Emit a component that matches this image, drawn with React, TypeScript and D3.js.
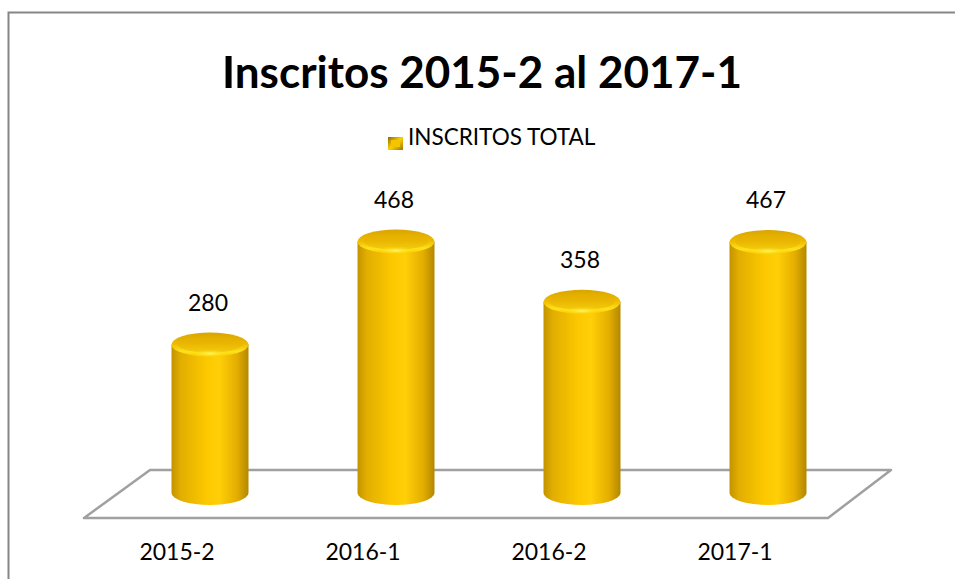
import React from "react";
import * as d3 from "d3";

const categories = ["2015-2", "2016-1", "2016-2", "2017-1"];
const inscritos = [280, 468, 358, 467];
const seriesName = "INSCRITOS TOTAL";
const title = "Inscritos 2015-2 al 2017-1";

const W = 955;
const H = 579;
const font = "Lato, 'Open Sans', sans-serif";

export default function App() {
  // floor of the 3D plot (front edge / back edge)
  const frontY = 518;
  const backY = 470;
  const depthShift = 66;
  const x = d3.scaleBand().domain(categories).range([84, 828]);
  // y of the centre of the top ellipse
  const y = d3.scaleLinear().domain([0, 500]).range([498, 224]);
  const rx = 38.5;
  const ry = 12;
  const baseY = 493;
  const barCx = (c: string) => (x(c) as number) + x.bandwidth() / 2 + depthShift / 2;

  const floor = d3.line()([
    [84, frontY],
    [828, frontY],
    [828 + depthShift - 3, backY],
    [84 + depthShift, backY],
  ]) + "Z";

  return (
    <svg width={W} height={H} style={{ position: "absolute", left: 0, top: 0 }} fontFamily={font}>
      <defs>
        <linearGradient id="body" x1="0" x2="1" y1="0" y2="0">
          <stop offset="0" stopColor="#C39300" />
          <stop offset="0.12" stopColor="#E2AE00" />
          <stop offset="0.45" stopColor="#FCC800" />
          <stop offset="0.62" stopColor="#FFCF08" />
          <stop offset="0.85" stopColor="#E4AE00" />
          <stop offset="1" stopColor="#B38700" />
        </linearGradient>
        <linearGradient id="cap" x1="0" x2="0" y1="0" y2="1">
          <stop offset="0" stopColor="#D9A500" />
          <stop offset="0.45" stopColor="#EDB900" />
          <stop offset="0.8" stopColor="#FFE21A" />
          <stop offset="1" stopColor="#F8C600" />
        </linearGradient>
        <radialGradient id="glint" cx="0.5" cy="0.5" r="0.5">
          <stop offset="0" stopColor="#FFF56A" stopOpacity="0.95" />
          <stop offset="1" stopColor="#FFE000" stopOpacity="0" />
        </radialGradient>
        <linearGradient id="legend" x1="0" x2="1" y1="0" y2="1">
          <stop offset="0" stopColor="#8A6A00" />
          <stop offset="0.5" stopColor="#FFD000" />
          <stop offset="1" stopColor="#9A7400" />
        </linearGradient>
      </defs>

      <rect x={8.5} y={12.5} width={W + 10} height={H + 10} fill="#fff" stroke="#868686" strokeWidth={2} />

      <text x={482} y={88} textAnchor="middle" fontSize={44} fontWeight="bold" fill="#000">
        {title}
      </text>

      <rect x={388} y={137} width={15} height={13} fill="url(#legend)" />
      <rect x={391} y={140} width={9} height={7} fill="#F5C400" />
      <text x={408} y={145} fontSize={22.5} fill="#000">{seriesName}</text>

      <path d={floor} fill="#fff" stroke="#A0A0A0" strokeWidth={2.5} strokeLinejoin="round" />

      {categories.map((c, i) => {
        const cx = barCx(c);
        const ty = y(inscritos[i]);
        return (
          <g key={c}>
            <path
              d={`M${cx - rx},${ty} L${cx - rx},${baseY} A${rx},${ry} 0 0 0 ${cx + rx},${baseY} L${cx + rx},${ty} Z`}
              fill="url(#body)"
            />
            <ellipse cx={cx} cy={ty} rx={rx} ry={ry} fill="url(#cap)" />
            <ellipse cx={cx} cy={ty} rx={rx - 6} ry={ry - 4} fill="#E6B200" opacity={0.5} />
            <ellipse cx={cx} cy={ty + ry - 3} rx={rx * 0.5} ry={4} fill="url(#glint)" />
            <text x={cx - 2} y={ty - ry - 22} textAnchor="middle" fontSize={23} fill="#000">
              {inscritos[i]}
            </text>
          </g>
        );
      })}

      {categories.map((c) => (
        <text key={c} x={(x(c) as number) + x.bandwidth() / 2} y={560} textAnchor="middle" fontSize={23} fill="#000">
          {c}
        </text>
      ))}
    </svg>
  );
}
